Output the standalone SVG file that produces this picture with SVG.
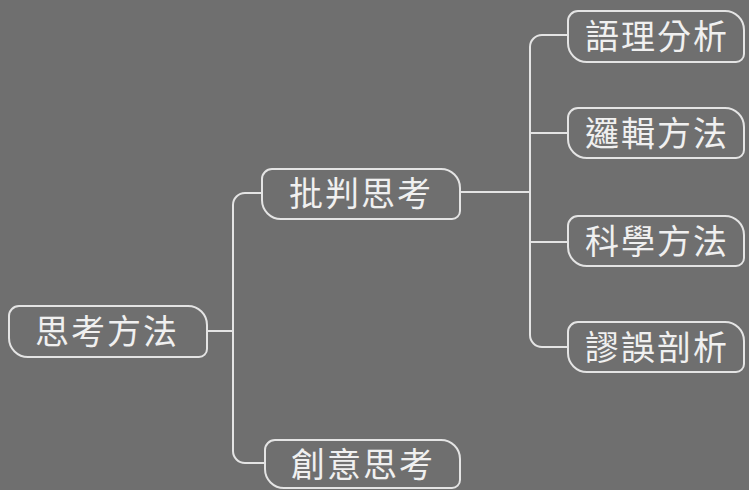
<svg xmlns="http://www.w3.org/2000/svg" width="749" height="490" viewBox="0 0 749 490">
<style>
.bg{fill:#6f6f6f}
.box{fill:none;stroke:#e4e4e4;stroke-width:2}
.lbl{fill:#f0f0f0;font-family:"Noto Sans CJK TC","Noto Sans CJK SC",sans-serif;font-size:34px;text-anchor:middle;letter-spacing:2px}
.con{fill:none;stroke:#e4e4e4;stroke-width:2}
</style>
<rect class="bg" x="0" y="0" width="749" height="490"/>
<g id="connectors">
<path class="con" d="M207,331 H233"/>
<path class="con" d="M262,193 H245 A12,12 0 0 0 233,205 V451 A12,12 0 0 0 245,463 H265"/>
<path class="con" d="M460,192 H530"/>
<path class="con" d="M568,35 H542 A12,12 0 0 0 530,47 V335 A12,12 0 0 0 542,347 H568"/>
<path class="con" d="M530,133 H568"/>
<path class="con" d="M530,242 H568"/>
</g>
<g id="n1">
<path class="box" d="M19,306 H188 A19,19 0 0 1 207,325 V349 A8,8 0 0 1 199,357 H28 A19,19 0 0 1 9,338 V316 A10,10 0 0 1 19,306 Z"/>
<text class="lbl" x="107" y="344">思考方法</text>
</g>
<g id="n2">
<path class="box" d="M272,169 H441 A19,19 0 0 1 460,188 V211 A8,8 0 0 1 452,219 H281 A19,19 0 0 1 262,200 V179 A10,10 0 0 1 272,169 Z"/>
<text class="lbl" x="361" y="206">批判思考</text>
</g>
<g id="n3">
<path class="box" d="M578,11 H725 A19,19 0 0 1 744,30 V54 A8,8 0 0 1 736,62 H587 A19,19 0 0 1 568,43 V21 A10,10 0 0 1 578,11 Z"/>
<text class="lbl" x="657" y="49">語理分析</text>
</g>
<g id="n4">
<path class="box" d="M578,108 H725 A19,19 0 0 1 744,127 V150 A8,8 0 0 1 736,158 H587 A19,19 0 0 1 568,139 V118 A10,10 0 0 1 578,108 Z"/>
<text class="lbl" x="657" y="146">邏輯方法</text>
</g>
<g id="n5">
<path class="box" d="M578,216 H725 A19,19 0 0 1 744,235 V258 A8,8 0 0 1 736,266 H587 A19,19 0 0 1 568,247 V226 A10,10 0 0 1 578,216 Z"/>
<text class="lbl" x="657" y="254">科學方法</text>
</g>
<g id="n6">
<path class="box" d="M578,322 H725 A19,19 0 0 1 744,341 V364 A8,8 0 0 1 736,372 H587 A19,19 0 0 1 568,353 V332 A10,10 0 0 1 578,322 Z"/>
<text class="lbl" x="657" y="360">謬誤剖析</text>
</g>
<g id="n7">
<path class="box" d="M275,440 H441 A19,19 0 0 1 460,459 V480 A8,8 0 0 1 452,488 H284 A19,19 0 0 1 265,469 V450 A10,10 0 0 1 275,440 Z"/>
<text class="lbl" x="363" y="477">創意思考</text>
</g>
</svg>
